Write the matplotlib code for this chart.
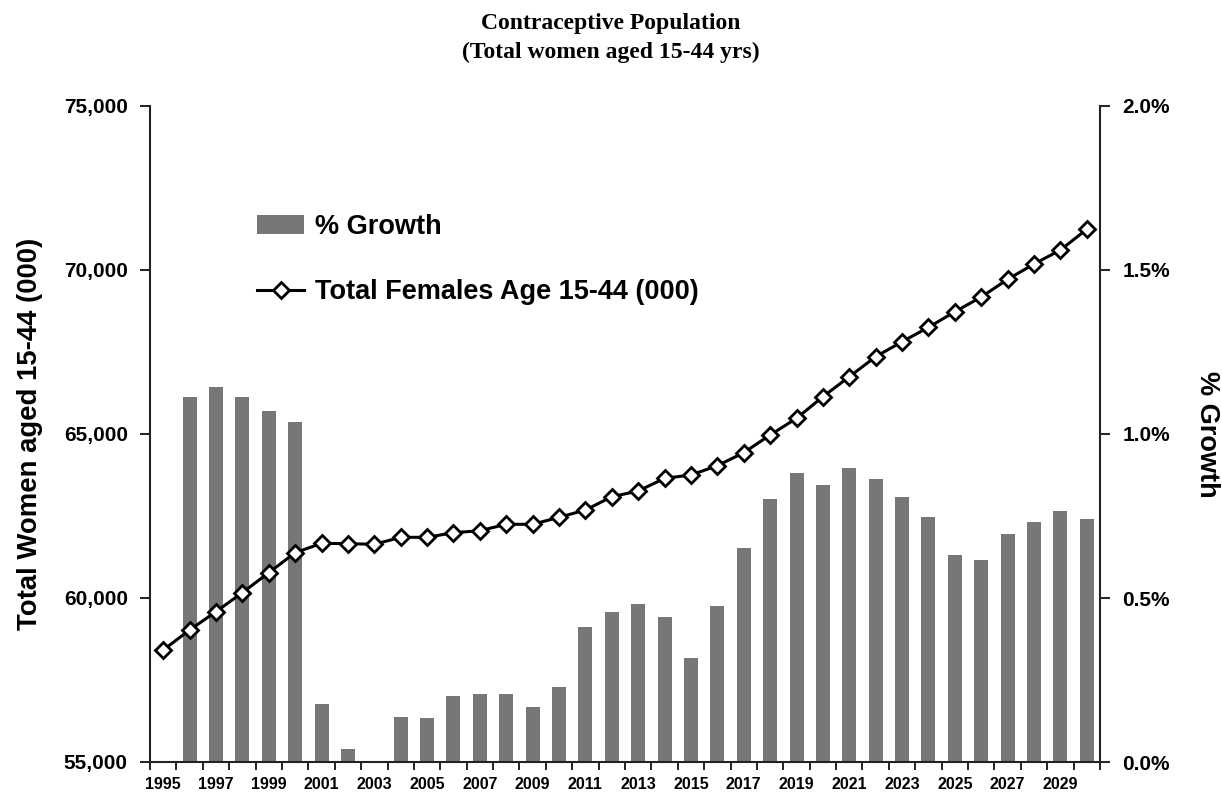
import matplotlib
matplotlib.use("Agg")
import matplotlib.pyplot as plt
import numpy as np

years = list(range(1995, 2031))
total_females = [58414, 59024, 59583, 60162, 60772, 61381, 61667, 61657, 61637, 61850,
                 61850, 61991, 62052, 62247, 62247, 62460, 62682, 63088, 63262, 63649,
                 63750, 64034, 64431, 64970, 65478, 66137, 66747, 67357, 67814, 68252,
                 68727, 69177, 69716, 70183, 70610, 71241]
growth_pct = [0.0, 1.113, 1.143, 1.113, 1.070, 1.037, 0.177, 0.039, 0.0, 0.138,
              0.133, 0.202, 0.208, 0.208, 0.167, 0.230, 0.411, 0.458, 0.483, 0.443,
              0.318, 0.477, 0.653, 0.801, 0.880, 0.844, 0.895, 0.863, 0.809, 0.747,
              0.632, 0.617, 0.694, 0.733, 0.764, 0.741]
left_ticks = [55000, 60000, 65000, 70000, 75000]
right_ticks = [0.0, 0.5, 1.0, 1.5, 2.0]
title_lines = ["Contraceptive Population", "(Total women aged 15-44 yrs)"]

SANS = ["Liberation Sans", "DejaVu Sans"]
plt.rcParams["font.family"] = SANS

fig = plt.figure(figsize=(12.22, 7.92), dpi=100)
ax = fig.add_axes([150/1222, 30/792, 950/1222, 656/792])
ax2 = ax.twinx()
ax.set_zorder(ax2.get_zorder() + 1)
ax.patch.set_visible(False)

x = np.arange(len(years))
bars = ax2.bar(x, growth_pct, width=0.53, color="#777777", label="% Growth", zorder=2)
line, = ax.plot(x, total_females, color="black", lw=2.2, marker="D", markersize=8.3,
                markerfacecolor="white", markeredgecolor="black", markeredgewidth=2.0,
                label="Total Females Age 15-44 (000)", zorder=3)

ax.set_xlim(-0.5, len(years) - 0.5)
ax.set_ylim(55000, 75000)
ax2.set_ylim(0, 2.0)

ax.set_yticks(left_ticks)
ax.set_yticklabels([f"{v:,}" for v in left_ticks])
ax2.set_yticks(right_ticks)
ax2.set_yticklabels([f"{v:.1f}%" for v in right_ticks])

# x ticks: boundaries as major ticks, labels at odd-year centres
ax.set_xticks(np.arange(-0.5, len(years), 1.0))
ax.set_xticklabels([])
lab_idx = [i for i, y in enumerate(years) if y % 2 == 1]
ax.set_xticks(lab_idx, minor=True)
ax.set_xticklabels([str(years[i]) for i in lab_idx], minor=True)
ax.tick_params(axis="x", which="major", direction="out", length=6, width=1.4, color="#222222")
ax.tick_params(axis="x", which="minor", length=0, pad=11, labelsize=11.5)
for t in ax.get_xticklabels(minor=True):
    t.set_fontweight("bold")

ax.tick_params(axis="y", direction="out", length=7, width=1.4, pad=9, labelsize=15, color="#222222")
ax2.tick_params(axis="y", direction="out", length=7, width=1.4, pad=9, labelsize=15, color="#222222")
for t in ax.get_yticklabels() + ax2.get_yticklabels():
    t.set_fontweight("bold")

for a in (ax, ax2):
    a.spines["top"].set_visible(False)
    for s in ("left", "right", "bottom"):
        a.spines[s].set_linewidth(1.5)
        a.spines[s].set_color("#222222")
ax.spines["right"].set_visible(False)
ax2.spines["left"].set_visible(False)
ax2.spines["bottom"].set_visible(False)

fig.text(30/1222, 1 - 434/792, "Total Women aged 15-44 (000)", rotation=90,
         ha="center", va="center", fontsize=19.8, fontweight="bold")
fig.text(1207/1222, 1 - 434/792, "% Growth", rotation=270,
         ha="center", va="center", fontsize=19.5, fontweight="bold")

fig.text(0.5, 1 - 23/792, title_lines[0], ha="center", va="center",
         fontsize=17, fontweight="bold", family=["Liberation Serif", "DejaVu Serif"])
fig.text(0.5, 1 - 52/792, title_lines[1], ha="center", va="center",
         fontsize=17, fontweight="bold", family=["Liberation Serif", "DejaVu Serif"])

leg = ax.legend([bars, line], [bars.get_label(), line.get_label()],
                loc="upper left", bbox_to_anchor=((257-150)/950, (762-214)/656),
                frameon=False, prop={"size": 19.5, "weight": "bold"},
                handlelength=1.75, handletextpad=0.4,
                labelspacing=1.45, borderpad=0, borderaxespad=0)

fig.savefig("out.png", dpi=100)
